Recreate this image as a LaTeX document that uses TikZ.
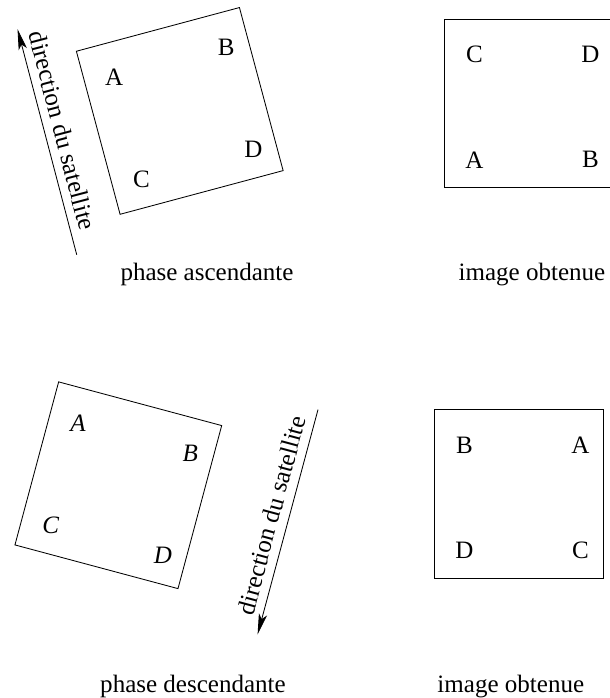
\documentclass[tikz,border=0pt]{standalone}
\usepackage{fontspec}
\setmainfont{Liberation Serif}
\usetikzlibrary{arrows.meta}

\tikzset{
  frame/.style={draw, line width=0.6pt, minimum size=4.22cm, inner sep=0pt},
  corner/.style={font=\fontsize{17.8}{21}\selectfont, inner sep=0pt},
  cornerit/.style={font=\fontsize{17.8}{21}\selectfont\itshape, inner sep=0pt},
  caption/.style={font=\fontsize{17.8}{21}\selectfont, anchor=base},
  satarrow/.style={line width=0.6pt, -{Stealth[length=0.52cm, width=0.21cm, inset=0.12cm]}},
  satlabel/.style={font=\fontsize{17.8}{21}\selectfont, sloped, above, inner sep=6pt}
}

\begin{document}
\begin{tikzpicture}
  % Define parameters
  \def\lx{-1.37}   % left column of the letters
  \def\rx{1.53}    % right column of the letters
  \def\ty{1.23}    % top row of the letters
  \def\by{-1.41}   % bottom row of the letters
  \def\tilt{15}    % tilt of the scene seen from the satellite

  \clip (0,0) rectangle (15.25,-17.45);

  %% Phase ascendante
  \node[frame, rotate=\tilt] (ascFrame) at (4.494,-2.773) {};
  \begin{scope}[shift={(ascFrame.center)}, rotate=\tilt]
    \node[corner] (ascA) at (\lx,\ty) {A};
    \node[corner] (ascB) at (\rx,\ty) {B};
    \node[corner] (ascC) at (\lx,\by) {C};
    \node[corner] (ascD) at (\rx,\by) {D};
  \end{scope}
  \coordinate (ascTail) at (1.918,-6.368);
  \coordinate (ascHead) at (0.438,-0.725);
  \draw[satarrow] (ascTail) -- node[satlabel, pos=0.53] (ascDir) {direction du satellite} (ascHead);
  \node[caption] (ascCaption) at (5.175,-7.0) {phase ascendante};

  % image obtenue (ascendante)
  \node[frame] (ascImage) at (13.23,-2.584) {};
  \begin{scope}[shift={(ascImage.center)}]
    \node[corner] (ascImgC) at (\lx,\ty) {C};
    \node[corner] (ascImgD) at (\rx,\ty) {D};
    \node[corner] (ascImgA) at (\lx,\by) {A};
    \node[corner] (ascImgB) at (\rx,\by) {B};
  \end{scope}
  \node[caption] (ascImgCaption) at (13.3,-7.0) {image obtenue};

  %% Phase descendante
  \node[frame, rotate=-\tilt] (descFrame) at (2.958,-12.131) {};
  \begin{scope}[shift={(descFrame.center)}, rotate=-\tilt]
    \node[cornerit] (descA) at (\lx,\ty) {A};
    \node[cornerit] (descB) at (\rx,\ty) {B};
    \node[cornerit] (descC) at (\lx,\by) {C};
    \node[cornerit] (descD) at (\rx,\by) {D};
  \end{scope}
  \coordinate (descTail) at (7.95,-10.24);
  \coordinate (descHead) at (6.44,-15.863);
  \draw[satarrow] (descTail) -- node[satlabel, pos=0.49] (descDir) {direction du satellite} (descHead);
  \node[caption] (descCaption) at (4.825,-17.31) {phase descendante};

  % image obtenue (descendante)
  \node[frame] (descImage) at (12.98,-12.355) {};
  \begin{scope}[shift={(descImage.center)}]
    \node[corner] (descImgB) at (\lx,\ty) {B};
    \node[corner] (descImgA) at (\rx,\ty) {A};
    \node[corner] (descImgD) at (\lx,\by) {D};
    \node[corner] (descImgC) at (\rx,\by) {C};
  \end{scope}
  \node[caption] (descImgCaption) at (12.77,-17.31) {image obtenue};

\end{tikzpicture}
\end{document}
